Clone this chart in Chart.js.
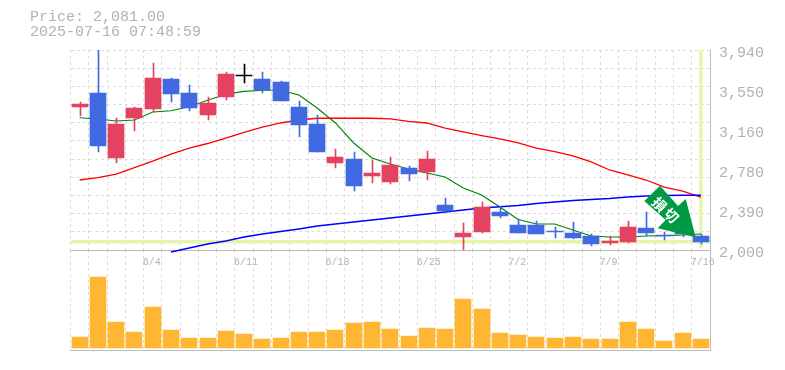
<!DOCTYPE html>
<html>
<head>
<meta charset="utf-8">
<title>Price chart</title>
<script src="https://cdn.jsdelivr.net/npm/chart.js@4"></script>
<style>
body { margin: 0; background: #fff; }
#wrap { position: relative; width: 785px; height: 370px; overflow: hidden; }
#wrap canvas, #wrap svg { position: absolute; left: 0; }
#price-chart { top: 0; z-index: 2; }
#volume-chart { top: 250px; z-index: 1; }
#arrow { top: 0; z-index: 3; }
#head { position: absolute; left: 30px; top: 10px; z-index: 4; font: 15px/15px "Liberation Mono", monospace; color: #b2b2b2; white-space: pre; }
</style>
</head>
<body>
<div id="wrap">
  <div id="head">Price: 2,081.00
2025-07-16 07:48:59</div>
  <canvas id="volume-chart" width="785" height="110"></canvas>
  <canvas id="price-chart" width="785" height="272"></canvas>
  <svg id="arrow" width="785" height="370">
    <polygon points="660,185.7 644.3,201 665.7,220 657.7,228.3 695.7,237.3 685.7,199 678,206" fill="#009a44"/>
    <text x="660" y="204" transform="rotate(45 660 204)" fill="#fff" font-family="Noto Sans CJK JP" font-weight="700" font-size="14" text-anchor="middle" dominant-baseline="central">損</text>
    <text x="672" y="215" transform="rotate(45 672 215)" fill="#fff" font-family="Noto Sans CJK JP" font-weight="700" font-size="14" text-anchor="middle" dominant-baseline="central">切</text>
  </svg>
</div>
<script>
// daily bars, 5/29 - 7/16
var dates = ['5/29','5/30','6/2','6/3','6/4','6/5','6/6','6/9','6/10','6/11','6/12','6/13','6/16','6/17','6/18','6/19','6/20','6/23','6/24','6/25','6/26','6/27','6/30','7/1','7/2','7/3','7/4','7/7','7/8','7/9','7/10','7/11','7/14','7/15','7/16'];
var shownDates = ['6/4','6/11','6/18','6/25','7/2','7/9','7/16'];

var open  = [3387,3523,2892,3280,3368,3659,3523,3310,3484,3685,3659,3630,3387,3222,2844,2883,2718,2660,2795,2757,2437,2126,2175,2369,2243,2243,2184,2165,2136,2068,2078,2213,2146,2175,2136];
var close = [3416,3009,3222,3377,3668,3513,3377,3426,3707,3685,3552,3445,3213,2951,2902,2621,2747,2825,2737,2883,2378,2165,2417,2330,2165,2155,2175,2116,2058,2087,2223,2165,2136,2155,2081];
var high  = [3436,3940,3280,3387,3814,3668,3600,3484,3727,3804,3727,3639,3445,3310,2980,2951,2873,2902,2815,2960,2504,2262,2466,2427,2301,2281,2223,2272,2155,2136,2281,2369,2175,2175,2155];
var low   = [3300,2951,2844,3154,3339,3436,3348,3261,3455,3620,3523,3445,3096,2951,2795,2572,2650,2640,2669,2679,2378,2000,2165,2310,2165,2155,2116,2107,2039,2049,2068,2136,2097,2126,2058];

var maShort = [3283,3271,3251,3261,3339,3351,3390,3452,3510,3539,3549,3549,3504,3377,3232,3038,2892,2834,2786,2747,2708,2601,2534,2417,2296,2252,2252,2194,2136,2126,2126,2136,2139,2146,2155];
var maMid   = [2679,2703,2737,2800,2863,2931,2989,3033,3086,3140,3193,3232,3261,3278,3278,3278,3278,3271,3247,3232,3183,3145,3109,3077,3038,2989,2955,2912,2854,2776,2728,2679,2611,2572,2514];
var maLong  = [null,null,null,null,null,1981,2019,2058,2087,2126,2155,2179,2204,2233,2252,2272,2291,2310,2330,2349,2369,2388,2407,2420,2432,2451,2466,2480,2490,2500,2514,2524,2529,2531,2531];

var volume = [11000,71000,26000,16000,41000,18000,10000,10000,17000,14000,9000,10000,16000,16000,18000,25000,26000,19000,12000,20000,19000,49000,39000,15000,13000,11000,10000,11000,9000,9000,26000,19000,7000,15000,9000];

var priceTicks = [3940,3552,3164,2776,2388,2000];
var priceLabels = ['3,940','3,550','3,160','2,780','2,390','2,000'];
var lastPrice = 2081;

var GRID = '#dcdcdc';
var AXIS = '#bbbbbb';
var TEXT = '#b2b2b2';
var HILITE = '#e6f5ab';

function candleColor(i) {
    if (close[i] > open[i]) return '#e34260';
    if (close[i] < open[i]) return '#4169e1';
    return '#000000';
}
var colors = dates.map(function (d, i) { return candleColor(i); });

// the original has no antialiasing, so snap bars to whole pixels
var snapBars = {
    id: 'snapBars',
    afterDatasetsUpdate: function (chart) {
        chart.data.datasets.forEach(function (ds, n) {
            if (ds.type === 'line') return;
            chart.getDatasetMeta(n).data.forEach(function (b) {
                b.x = Math.round(b.x) + (ds.barThickness === 1 ? 0.5 : 0);
                b.y = Math.round(b.y);
                b.base = Math.round(b.base);
            });
        });
    }
};

var priceMin = 2000, priceMax = 3940;

new Chart(document.getElementById('price-chart'), {
    data: {
        labels: dates,
        datasets: [
            { type: 'bar', label: 'body', order: 1, data: dates.map(function (d, i) { return [open[i], close[i]]; }), backgroundColor: colors, barThickness: 16, minBarLength: 1, grouped: false, yAxisID: 'y' },
            { type: 'bar', label: 'wick', order: 2, data: dates.map(function (d, i) { return [low[i], high[i]]; }), backgroundColor: colors, barThickness: 1, grouped: false, yAxisID: 'y' },
            { type: 'line', label: 'ma long', order: 3, data: maLong, borderColor: '#0000ff', borderWidth: 1.5, pointRadius: 0, tension: 0, clip: false, yAxisID: 'y' },
            { type: 'line', label: 'ma mid', order: 4, data: maMid, borderColor: '#ff0000', borderWidth: 1.3, pointRadius: 0, tension: 0, yAxisID: 'y' },
            { type: 'line', label: 'ma short', order: 5, data: maShort, borderColor: '#008000', borderWidth: 1.1, pointRadius: 0, tension: 0, yAxisID: 'y' },
            { type: 'line', label: 'now', order: 6, data: [{ x: '7/16', y: 3940 }, { x: '7/16', y: 2019 }], borderColor: HILITE, borderWidth: 3.5, pointRadius: 0, yAxisID: 'y' }
        ]
    },
    plugins: [snapBars],
    options: {
        responsive: false,
        animation: false,
        layout: { padding: { left: 70.5, top: 50, right: 0, bottom: 0 } },
        plugins: { legend: { display: false }, tooltip: { enabled: false }, title: { display: false } },
        scales: {
            x: {
                offset: true,
                grid: { color: GRID, offset: true, drawTicks: false },
                border: { color: AXIS, dash: [3, 3] },
                ticks: {
                    autoSkip: false, maxRotation: 0, align: 'start', labelOffset: -10, padding: 6, color: TEXT,
                    font: { family: 'Liberation Mono', size: 10 },
                    callback: function (v, i) { return shownDates.indexOf(dates[i]) >= 0 ? dates[i] : ''; }
                },
                afterFit: function (s) { s.height = 22; }
            },
            // horizontal grid, spaced differently from the labels
            grid: {
                position: 'left', min: priceMin, max: priceMax,
                afterBuildTicks: function (s) {
                    var t = [];
                    for (var i = 0; i < 11; i++) t.push({ value: priceMax - i * (priceMax - priceMin) / 11 });
                    t.push({ value: lastPrice });
                    s.ticks = t;
                },
                grid: {
                    drawTicks: false,
                    color: function (c) { return c.tick && c.tick.value === lastPrice ? HILITE : GRID; },
                    lineWidth: function (c) { return c.tick && c.tick.value === lastPrice ? 3.5 : 1; }
                },
                border: { display: false, dash: function (c) { return c.tick && c.tick.value === lastPrice ? [] : [3, 3]; } },
                ticks: { display: false },
                afterFit: function (s) { s.width = 0; }
            },
            y: {
                position: 'right', min: priceMin, max: priceMax,
                afterBuildTicks: function (s) { s.ticks = priceTicks.map(function (v) { return { value: v }; }); },
                grid: { display: false, drawTicks: false },
                border: { color: AXIS },
                ticks: {
                    padding: 9, labelOffset: 3, color: TEXT,
                    font: { family: 'Liberation Mono', size: 15 },
                    callback: function (v, i) { return priceLabels[i]; }
                },
                afterFit: function (s) { s.width = 75; }
            }
        }
    }
});

new Chart(document.getElementById('volume-chart'), {
    type: 'bar',
    data: {
        labels: dates,
        datasets: [{ label: 'volume', data: volume, backgroundColor: '#ffb733', barThickness: 16 }]
    },
    plugins: [snapBars],
    options: {
        responsive: false,
        animation: false,
        layout: { padding: { left: 70.5, top: 0, right: 0, bottom: 10 } },
        plugins: { legend: { display: false }, tooltip: { enabled: false } },
        scales: {
            x: {
                offset: true,
                grid: { color: GRID, offset: true, drawTicks: false },
                border: { color: AXIS, dash: [3, 3] },
                ticks: { display: false },
                afterFit: function (s) { s.height = 0; }
            },
            y: {
                position: 'right', min: -2000, max: 98000,
                grid: { display: false, drawTicks: false },
                border: { color: AXIS },
                ticks: { display: false },
                afterFit: function (s) { s.width = 75; }
            }
        }
    }
});
</script>
</body>
</html>
